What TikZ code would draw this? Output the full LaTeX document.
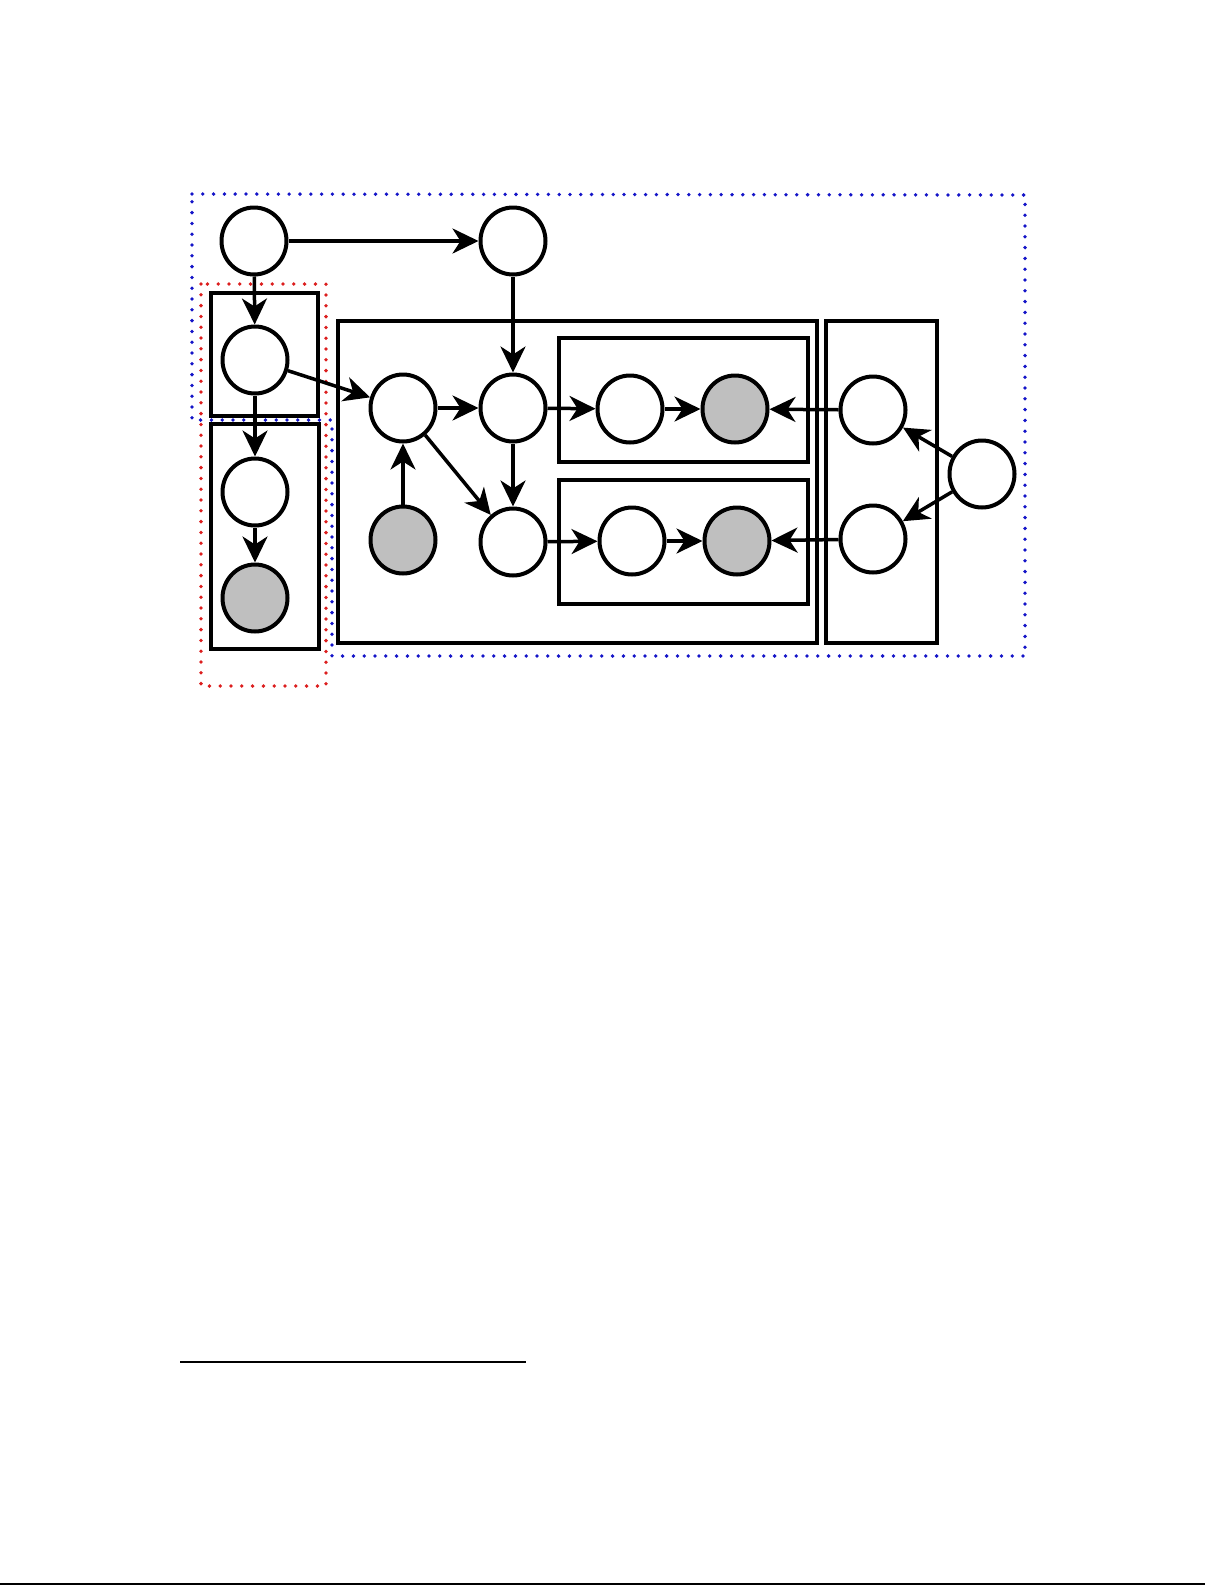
\documentclass[tikz,border=0pt]{standalone}
\usetikzlibrary{arrows.meta,shapes.geometric}
\definecolor{groupblue}{RGB}{20,20,200}
\definecolor{groupred}{RGB}{220,30,30}
\begin{document}
\begin{tikzpicture}[x=1pt,y=-1pt,
    var/.style={ellipse,draw,line width=4pt,minimum width=65pt,minimum height=67pt,inner sep=0pt,fill=white},
    obs/.style={var,fill=black!25},
    plate/.style={draw,line width=4pt},
    arr/.style={-{Stealth[length=26pt,width=25pt,inset=8pt]},line width=3.5pt},
    group/.style={line width=3.8pt,dash pattern=on 0pt off 10.8pt,line cap=round}]

    \useasboundingbox (0,0) rectangle (1225,1585);

    % Draw the dotted groups
    \draw[group,groupblue] (192,194) -- (1025,195) -- (1025,656) -- (332,656) -- (332,420) -- (192,420) -- cycle;
    \draw[group,groupred] (201,284) rectangle (326,686);

    % Draw the plates
    \draw[plate] (211,293) rectangle (318,416);
    \draw[plate] (211,424) rectangle (319,649);
    \draw[plate] (338,321) rectangle (817,643);
    \draw[plate,line width=3.5pt] (826,321) rectangle (937,643);
    \draw[plate] (559,338) rectangle (808,462);
    \draw[plate] (559,480) rectangle (808,604);

    % Top row
    \node[var] (A) at (254,241) {};
    \node[var] (B) at (513,241) {};

    % Left column
    \node[var] (C) at (255,360) {};
    \node[var] (D) at (255,492) {};
    \node[obs] (E) at (255,598) {};

    % Middle block
    \node[var] (F) at (403,408) {};
    \node[var] (G) at (513,408) {};
    \node[obs] (H) at (403,540) {};
    \node[var] (I) at (513,542) {};

    % Inner plates
    \node[var] (J) at (630,409) {};
    \node[obs] (K) at (735,409) {};
    \node[var] (L) at (632,541) {};
    \node[obs] (M) at (737,541) {};

    % Right side
    \node[var] (N) at (873,410) {};
    \node[var] (O) at (873,539) {};
    \node[var] (P) at (982,474) {};

    % Draw the arrows
    \draw[arr] (A) -- (B);
    \draw[arr] (A) -- (C);
    \draw[arr] (B) -- (G);
    \draw[arr] (C) -- (F);
    \draw[arr] (C) -- (D);
    \draw[arr] (D) -- (E);
    \draw[arr] (F) -- (G);
    \draw[arr] (H) -- (F);
    \draw[arr] (F) -- (I);
    \draw[arr] (G) -- (I);
    \draw[arr] (G) -- (J);
    \draw[arr] (J) -- (K);
    \draw[arr] (I) -- (L);
    \draw[arr] (L) -- (M);
    \draw[arr] (N) -- (K);
    \draw[arr] (O) -- (M);
    \draw[arr] (P) -- (N);
    \draw[arr] (P) -- (O);

    % Footnote rule and page edge
    \draw[line width=1.5pt] (180,1362) -- (526,1362);
    \draw[line width=2pt] (0,1583.5) -- (1205,1583.5);

\end{tikzpicture}
\end{document}
